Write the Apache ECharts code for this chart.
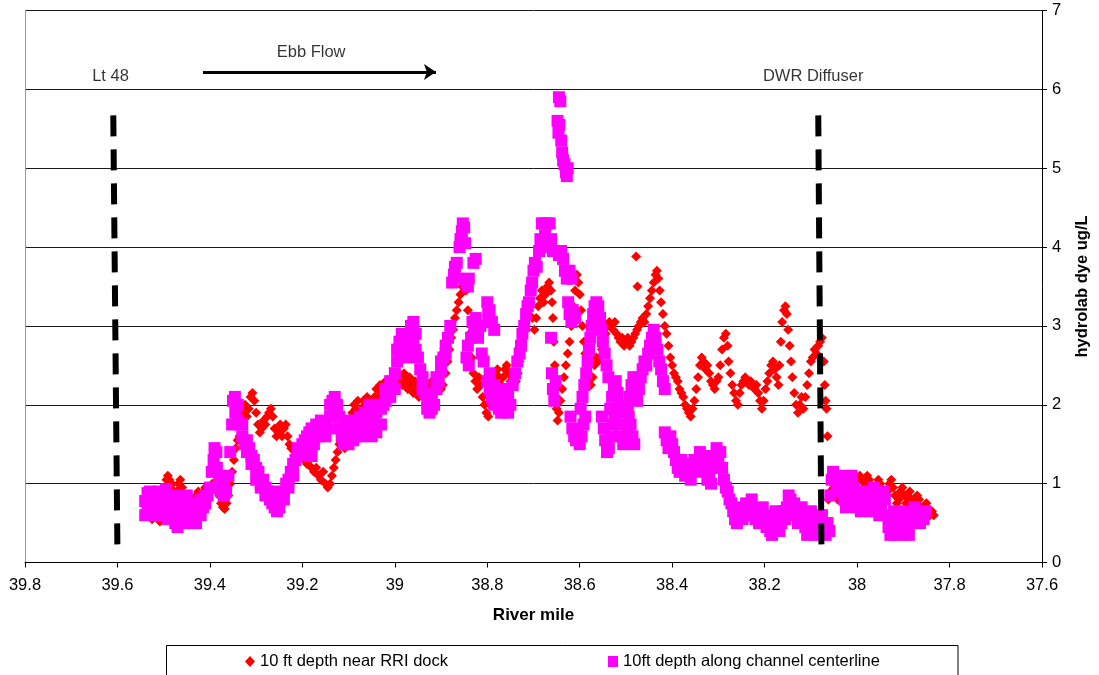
<!DOCTYPE html>
<html>
<head>
<meta charset="utf-8">
<script src="https://cdn.jsdelivr.net/npm/echarts@6/dist/echarts.min.js"></script>
<style>html,body{margin:0;padding:0;background:#fff}#c{width:1099px;height:675px}</style>
</head>
<body>
<div id="c"></div>
<script>
// Series names
const seriesNames = ['10 ft depth near RRI dock', '10ft depth along channel centerline'];

// 10 ft depth near RRI dock  [river mile, dye ug/L]
const redDock = [
[39.525,0.55],[39.52,0.62],[39.516,0.72],[39.512,0.58],[39.508,0.52],[39.504,0.7],[39.5,0.85],[39.497,0.95],[39.494,1.05],[39.491,1.1],
[39.488,1.05],[39.485,0.95],[39.482,1.0],[39.479,0.9],[39.476,0.8],[39.472,0.9],[39.468,1.0],[39.464,1.05],[39.46,0.95],[39.456,0.85],
[39.452,0.75],[39.448,0.8],[39.444,0.7],[39.44,0.75],[39.435,0.8],[39.43,0.85],[39.425,0.9],[39.42,0.85],[39.415,0.9],[39.41,0.95],
[39.405,0.9],[39.4,0.95],[39.395,1.0],[39.39,0.95],[39.385,0.9],[39.38,0.85],[39.376,0.75],[39.372,0.7],[39.368,0.68],[39.364,0.75],
[39.36,0.85],[39.356,1.0],[39.352,1.15],[39.348,1.3],[39.344,1.45],[39.34,1.55],[39.336,1.6],[39.332,1.75],[39.328,1.9],[39.324,2.0],
[39.32,1.85],[39.316,1.95],[39.312,2.1],[39.308,2.15],[39.304,2.05],[39.3,1.9],[39.296,1.75],[39.292,1.65],[39.288,1.7],[39.284,1.8],
[39.28,1.75],[39.276,1.85],[39.272,1.9],[39.268,1.95],[39.264,1.85],[39.26,1.7],[39.256,1.6],[39.252,1.65],[39.248,1.75],[39.244,1.6],
[39.24,1.7],[39.236,1.75],[39.232,1.6],[39.228,1.5],[39.224,1.45],[39.22,1.45],[39.216,1.4],[39.212,1.35],[39.208,1.38],[39.204,1.32],
[39.2,1.35],[39.196,1.3],[39.19,1.25],[39.185,1.3],[39.18,1.2],[39.175,1.15],[39.17,1.2],[39.165,1.1],[39.16,1.05],[39.155,1.15],
[39.15,1.0],[39.145,0.95],[39.14,1.0],[39.136,1.1],[39.132,1.2],[39.128,1.3],[39.124,1.4],[39.12,1.5],[39.116,1.6],[39.112,1.5],
[39.108,1.45],[39.104,1.55],[39.1,1.65],[39.096,1.8],[39.092,1.9],[39.088,2.0],[39.084,1.95],[39.08,2.05],[39.076,1.9],[39.072,1.95],
[39.068,2.05],[39.064,2.0],[39.06,2.1],[39.056,2.0],[39.052,2.05],[39.048,1.95],[39.044,2.1],[39.04,2.2],[39.036,2.1],[39.032,2.25],
[39.028,2.15],[39.024,2.2],[39.02,2.3],[39.016,2.15],[39.012,2.2],[39.008,2.1],[39.004,2.2],[39.0,2.25],[38.996,2.3],[38.992,2.4],
[38.988,2.35],[38.984,2.25],[38.98,2.4],[38.976,2.3],[38.972,2.2],[38.968,2.35],[38.964,2.25],[38.96,2.15],[38.956,2.3],[38.952,2.2],
[38.948,2.1],[38.944,2.2],[38.94,2.3],[38.936,2.2],[38.932,2.15],[38.928,2.25],[38.924,2.2],[38.92,2.3],[38.916,2.25],[38.912,2.2],
[38.908,2.3],[38.904,2.2],[38.9,2.2],[38.896,2.25],[38.89,2.4],[38.886,2.55],[38.882,2.7],[38.878,2.85],[38.874,2.95],[38.87,3.1],
[38.866,3.2],[38.862,3.3],[38.858,3.4],[38.854,3.5],[38.85,3.55],[38.846,3.45],[38.842,3.2],[38.838,2.9],[38.834,2.6],[38.83,2.4],
[38.826,2.3],[38.822,2.2],[38.818,2.35],[38.814,2.25],[38.81,2.1],[38.806,2.0],[38.802,1.9],[38.798,1.85],[38.794,2.0],[38.79,2.15],
[38.786,2.3],[38.782,2.4],[38.778,2.45],[38.774,2.35],[38.77,2.25],[38.766,2.35],[38.762,2.45],[38.758,2.5],[38.754,2.4],[38.75,2.3],
[38.746,2.35],[38.742,2.4],[38.738,2.3],[38.734,2.4],[38.73,2.55],[38.726,2.7],[38.722,2.85],[38.718,2.95],[38.714,3.1],[38.71,3.2],
[38.706,3.3],[38.702,3.1],[38.698,2.95],[38.694,3.1],[38.69,3.25],[38.686,3.35],[38.682,3.45],[38.678,3.3],[38.674,3.4],[38.67,3.5],
[38.666,3.55],[38.662,3.45],[38.66,3.3],[38.658,3.1],[38.656,2.8],[38.654,2.5],[38.652,2.2],[38.65,1.95],[38.648,1.8],[38.645,1.9],
[38.642,2.05],[38.638,2.2],[38.634,2.35],[38.63,2.5],[38.626,2.65],[38.622,2.8],[38.618,3.0],[38.614,3.25],[38.61,3.45],[38.606,3.65],
[38.603,3.55],[38.6,3.4],[38.597,3.2],[38.594,3.0],[38.591,2.8],[38.588,2.65],[38.584,2.5],[38.58,2.35],[38.576,2.25],[38.572,2.35],
[38.568,2.5],[38.564,2.6],[38.56,2.55],[38.556,2.6],[38.552,2.7],[38.548,2.8],[38.544,2.9],[38.54,3.0],[38.536,3.05],[38.532,3.0],
[38.528,2.95],[38.524,3.05],[38.52,2.9],[38.516,2.85],[38.512,2.8],[38.508,2.85],[38.504,2.75],[38.5,2.8],[38.496,2.85],[38.492,2.75],
[38.488,2.8],[38.478,3.88],[38.475,3.5],[38.484,2.85],[38.48,2.9],[38.476,2.95],[38.472,3.0],[38.468,3.05],[38.464,3.1],[38.46,3.05],
[38.456,3.15],[38.452,3.25],[38.448,3.35],[38.444,3.45],[38.44,3.55],[38.436,3.65],[38.433,3.7],[38.43,3.6],[38.427,3.45],[38.424,3.3],
[38.42,3.15],[38.416,3.0],[38.412,2.9],[38.408,2.75],[38.404,2.6],[38.4,2.5],[38.396,2.4],[38.392,2.35],[38.388,2.3],[38.384,2.2],
[38.38,2.15],[38.376,2.1],[38.372,2.0],[38.368,1.95],[38.364,1.9],[38.36,1.85],[38.356,1.95],[38.352,2.05],[38.348,2.2],[38.344,2.35],
[38.34,2.5],[38.336,2.6],[38.332,2.55],[38.328,2.45],[38.324,2.5],[38.32,2.4],[38.316,2.3],[38.312,2.25],[38.308,2.2],[38.304,2.3],
[38.3,2.35],[38.296,2.5],[38.292,2.7],[38.288,2.85],[38.284,2.9],[38.28,2.75],[38.278,2.55],[38.274,2.4],[38.27,2.25],[38.266,2.15],
[38.262,2.05],[38.258,2.0],[38.254,2.15],[38.25,2.25],[38.246,2.3],[38.242,2.35],[38.238,2.3],[38.234,2.25],[38.23,2.3],[38.226,2.25],
[38.222,2.2],[38.218,2.25],[38.214,2.15],[38.21,2.05],[38.206,1.95],[38.202,2.05],[38.198,2.2],[38.194,2.3],[38.19,2.4],[38.186,2.5],
[38.182,2.55],[38.178,2.45],[38.174,2.35],[38.17,2.25],[38.168,2.5],[38.165,2.8],[38.162,3.05],[38.158,3.2],[38.155,3.25],[38.152,3.15],
[38.149,2.95],[38.146,2.75],[38.143,2.55],[38.14,2.35],[38.136,2.15],[38.132,2.0],[38.128,1.9],[38.124,2.0],[38.12,2.1],[38.116,1.95],
[38.112,2.1],[38.108,2.25],[38.104,2.4],[38.1,2.55],[38.096,2.6],[38.092,2.7],[38.088,2.65],[38.084,2.75],[38.08,2.8],[38.076,2.85],
[38.072,2.55],[38.07,2.25],[38.068,2.05],[38.066,1.95],[38.064,1.6],[38.062,0.8],[38.058,0.9],[38.054,0.85],[38.05,0.95],[38.046,0.9],
[38.042,0.8],[38.038,0.85],[38.034,0.95],[38.03,1.0],[38.026,0.95],[38.022,0.9],[38.018,0.85],[38.014,0.9],[38.01,0.95],[38.006,0.9],
[38.002,1.0],[37.998,1.05],[37.994,1.1],[37.99,1.05],[37.986,0.95],[37.982,1.0],[37.978,1.1],[37.974,1.05],[37.97,0.95],[37.966,0.9],
[37.962,0.85],[37.958,0.95],[37.954,1.05],[37.95,1.0],[37.946,0.9],[37.942,0.85],[37.938,0.8],[37.934,0.9],[37.93,1.0],[37.926,1.05],
[37.922,0.95],[37.918,0.85],[37.914,0.75],[37.91,0.8],[37.906,0.9],[37.902,0.95],[37.898,0.85],[37.894,0.75],[37.89,0.85],[37.886,0.9],
[37.882,0.8],[37.878,0.7],[37.874,0.75],[37.87,0.85],[37.866,0.8],[37.862,0.7],[37.858,0.6],[37.854,0.7],[37.85,0.75],[37.846,0.65],
[37.842,0.6],[37.838,0.65],[37.834,0.6]
];

// 10ft depth along channel centerline  [river mile, dye ug/L]
const magentaCenter = [
[39.54,0.6],[39.54,0.78],[39.535,0.88],[39.535,0.65],[39.53,0.9],[39.53,0.7],[39.525,0.8],[39.52,0.75],[39.52,0.6],[39.515,0.86],
[39.51,0.9],[39.51,0.7],[39.505,0.75],[39.5,0.85],[39.5,0.6],[39.495,0.93],[39.495,0.7],[39.49,0.8],[39.49,0.55],[39.485,0.65],
[39.48,0.75],[39.475,0.5],[39.475,0.85],[39.47,0.45],[39.47,0.7],[39.465,0.55],[39.46,0.65],[39.46,0.8],[39.455,0.5],[39.45,0.6],
[39.45,0.85],[39.445,0.55],[39.44,0.5],[39.44,0.7],[39.435,0.6],[39.43,0.75],[39.43,0.5],[39.425,0.65],[39.42,0.8],[39.42,0.6],
[39.415,0.7],[39.41,0.85],[39.41,0.75],[39.405,0.85],[39.4,0.95],[39.396,1.15],[39.392,1.3],[39.39,1.45],[39.386,1.4],[39.385,1.2],
[39.38,1.1],[39.38,0.95],[39.375,0.9],[39.37,0.85],[39.37,1.0],[39.365,0.9],[39.36,1.1],[39.356,1.4],[39.352,1.75],[39.35,2.05],
[39.346,2.1],[39.345,1.9],[39.34,2.0],[39.34,1.8],[39.335,1.75],[39.33,1.6],[39.33,1.75],[39.325,1.5],[39.32,1.55],[39.32,1.4],
[39.315,1.45],[39.31,1.35],[39.31,1.25],[39.305,1.3],[39.3,1.2],[39.3,1.05],[39.295,1.15],[39.29,1.0],[39.29,0.95],[39.285,1.05],
[39.28,0.95],[39.28,0.85],[39.275,0.9],[39.27,0.8],[39.265,0.75],[39.265,0.9],[39.26,0.7],[39.255,0.65],[39.255,0.8],[39.25,0.7],
[39.25,0.78],[39.245,0.85],[39.24,0.9],[39.24,0.8],[39.235,1.0],[39.23,1.05],[39.23,0.95],[39.225,1.15],[39.22,1.25],[39.22,1.1],
[39.215,1.3],[39.21,1.35],[39.21,1.45],[39.205,1.4],[39.2,1.5],[39.2,1.35],[39.195,1.55],[39.19,1.6],[39.19,1.4],[39.185,1.65],
[39.185,1.45],[39.18,1.7],[39.18,1.35],[39.175,1.5],[39.17,1.65],[39.17,1.75],[39.165,1.6],[39.16,1.7],[39.16,1.8],[39.155,1.65],
[39.15,1.75],[39.15,1.6],[39.145,1.7],[39.14,1.85],[39.14,2.0],[39.135,2.05],[39.13,2.1],[39.13,1.95],[39.125,2.0],[39.12,1.85],
[39.12,1.7],[39.115,1.6],[39.11,1.5],[39.11,1.75],[39.105,1.55],[39.1,1.5],[39.1,1.65],[39.095,1.8],[39.09,1.55],[39.09,1.7],
[39.085,1.6],[39.08,1.75],[39.075,1.6],[39.075,1.85],[39.07,1.7],[39.065,1.9],[39.065,1.65],[39.06,1.75],[39.055,2.0],[39.055,1.8],
[39.05,1.6],[39.045,1.85],[39.04,1.65],[39.04,1.9],[39.035,2.0],[39.03,1.75],[39.03,1.95],[39.025,2.0],[39.02,2.05],[39.02,2.2],
[39.015,2.1],[39.01,2.3],[39.01,2.1],[39.005,2.25],[39.0,2.4],[39.0,2.2],[38.995,2.55],[38.995,2.7],[38.99,2.8],[38.99,2.65],
[38.985,2.9],[38.98,2.85],[38.98,2.7],[38.975,2.6],[38.97,2.75],[38.97,2.9],[38.965,3.0],[38.96,3.05],[38.96,2.85],[38.955,2.9],
[38.955,2.7],[38.95,2.6],[38.945,2.45],[38.94,2.35],[38.94,2.2],[38.935,2.15],[38.93,2.05],[38.93,1.95],[38.925,1.9],[38.92,1.95],
[38.92,2.1],[38.915,2.0],[38.91,2.2],[38.91,2.35],[38.905,2.3],[38.9,2.45],[38.9,2.55],[38.895,2.6],[38.89,2.75],[38.89,2.65],
[38.885,2.85],[38.88,3.0],[38.876,3.55],[38.872,3.65],[38.87,3.75],[38.866,3.8],[38.865,3.6],[38.86,4.0],[38.858,4.1],[38.855,4.2],
[38.853,4.3],[38.85,4.25],[38.848,4.05],[38.845,3.55],[38.842,3.5],[38.84,3.6],[38.83,3.8],[38.825,3.85],[38.845,2.6],[38.842,2.75],
[38.84,2.5],[38.835,2.85],[38.832,3.05],[38.828,2.9],[38.825,3.1],[38.82,2.85],[38.815,3.0],[38.812,2.65],[38.808,2.55],[38.8,3.3],
[38.798,3.15],[38.795,3.2],[38.79,3.05],[38.785,2.95],[38.8,2.3],[38.795,2.4],[38.795,2.2],[38.79,2.1],[38.785,2.25],[38.785,2.0],
[38.78,2.05],[38.775,1.95],[38.775,2.15],[38.77,1.9],[38.765,2.0],[38.765,2.2],[38.76,1.95],[38.755,1.9],[38.755,2.1],[38.75,2.0],
[38.745,2.25],[38.74,2.4],[38.735,2.55],[38.73,2.65],[38.727,2.75],[38.724,2.9],[38.72,3.0],[38.716,3.15],[38.713,3.25],[38.71,3.3],
[38.706,3.45],[38.703,3.55],[38.7,3.7],[38.697,3.8],[38.693,3.75],[38.688,3.95],[38.685,4.1],[38.682,4.3],[38.678,4.3],[38.675,4.15],
[38.672,4.0],[38.67,4.3],[38.665,4.3],[38.662,4.1],[38.658,3.95],[38.662,2.85],[38.66,2.4],[38.658,2.2],[38.655,2.05],[38.652,2.3],
[38.645,5.9],[38.642,5.85],[38.648,5.6],[38.646,5.45],[38.644,5.55],[38.64,5.35],[38.638,5.2],[38.636,5.1],[38.633,5.05],[38.63,4.95],
[38.628,4.9],[38.626,5.0],[38.65,3.95],[38.645,3.9],[38.64,3.95],[38.636,3.85],[38.632,3.7],[38.628,3.6],[38.622,3.7],[38.618,3.6],
[38.625,3.3],[38.622,3.15],[38.618,3.05],[38.615,3.2],[38.61,3.1],[38.62,1.85],[38.616,1.7],[38.612,1.6],[38.608,1.55],[38.604,1.65],
[38.6,1.5],[38.596,1.6],[38.592,1.75],[38.588,1.85],[38.598,1.95],[38.594,2.1],[38.59,2.25],[38.586,2.4],[38.583,2.55],[38.58,2.7],
[38.577,2.85],[38.574,3.0],[38.571,3.15],[38.568,3.25],[38.564,3.3],[38.56,3.25],[38.556,3.1],[38.553,2.95],[38.55,2.8],[38.546,2.65],
[38.542,2.5],[38.538,2.35],[38.552,1.85],[38.548,1.7],[38.545,1.55],[38.541,1.4],[38.537,1.45],[38.533,1.6],[38.529,1.75],[38.525,1.85],
[38.534,1.95],[38.53,2.1],[38.526,2.25],[38.522,2.3],[38.518,2.15],[38.514,2.0],[38.518,1.9],[38.514,1.75],[38.51,1.6],[38.506,1.5],
[38.502,1.55],[38.498,1.7],[38.494,1.85],[38.49,1.75],[38.486,1.6],[38.482,1.5],[38.496,1.95],[38.492,2.1],[38.488,2.25],[38.484,2.35],
[38.48,2.2],[38.476,2.05],[38.472,2.2],[38.468,2.35],[38.464,2.45],[38.46,2.55],[38.456,2.5],[38.452,2.65],[38.448,2.75],[38.444,2.85],
[38.44,2.95],[38.436,2.85],[38.432,2.7],[38.428,2.55],[38.424,2.45],[38.42,2.3],[38.416,2.2],[38.416,1.65],[38.412,1.55],[38.408,1.45],
[38.404,1.6],[38.4,1.5],[38.396,1.4],[38.392,1.3],[38.388,1.2],[38.384,1.15],[38.38,1.3],[38.376,1.2],[38.372,1.1],[38.368,1.25],
[38.364,1.15],[38.36,1.05],[38.356,1.2],[38.352,1.3],[38.348,1.15],[38.344,1.3],[38.34,1.4],[38.336,1.25],[38.332,1.35],[38.328,1.2],
[38.324,1.05],[38.32,1.1],[38.316,1.0],[38.312,1.2],[38.308,1.35],[38.304,1.45],[38.3,1.3],[38.296,1.4],[38.292,1.2],[38.288,1.05],
[38.284,0.95],[38.28,0.9],[38.276,0.8],[38.272,0.75],[38.268,0.65],[38.264,0.55],[38.26,0.5],[38.256,0.6],[38.252,0.7],[38.248,0.55],
[38.244,0.65],[38.24,0.75],[38.236,0.6],[38.232,0.7],[38.228,0.8],[38.224,0.65],[38.22,0.55],[38.216,0.65],[38.212,0.5],[38.208,0.6],
[38.204,0.7],[38.2,0.55],[38.196,0.45],[38.192,0.6],[38.188,0.4],[38.184,0.35],[38.18,0.5],[38.176,0.65],[38.172,0.55],[38.168,0.4],
[38.164,0.5],[38.16,0.65],[38.156,0.55],[38.152,0.7],[38.148,0.85],[38.144,0.8],[38.14,0.65],[38.136,0.75],[38.132,0.6],[38.128,0.5],
[38.124,0.65],[38.12,0.7],[38.116,0.55],[38.112,0.45],[38.108,0.35],[38.104,0.5],[38.1,0.65],[38.096,0.55],[38.092,0.4],[38.088,0.5],
[38.084,0.35],[38.08,0.45],[38.076,0.6],[38.072,0.45],[38.068,0.35],[38.064,0.5],[38.06,0.4],[38.058,0.85],[38.055,1.05],[38.052,1.15],
[38.048,1.05],[38.044,0.9],[38.04,1.0],[38.036,1.1],[38.032,0.95],[38.028,0.8],[38.024,0.7],[38.02,0.85],[38.016,1.0],[38.012,1.1],
[38.008,0.95],[38.004,0.8],[38.0,0.7],[37.996,0.8],[37.992,0.65],[37.988,0.75],[37.984,0.9],[37.98,0.8],[37.976,0.7],[37.972,0.65],
[37.968,0.8],[37.964,0.95],[37.96,0.85],[37.956,0.7],[37.952,0.6],[37.948,0.75],[37.944,0.9],[37.94,0.8],[37.936,0.6],[37.932,0.45],
[37.928,0.35],[37.924,0.5],[37.92,0.65],[37.916,0.55],[37.912,0.4],[37.908,0.35],[37.904,0.5],[37.9,0.65],[37.896,0.55],[37.892,0.4],
[37.888,0.35],[37.884,0.5],[37.88,0.6],[37.876,0.7],[37.872,0.55],[37.868,0.6],[37.864,0.5],[37.86,0.6],[37.856,0.55],[37.852,0.65]
];

// Reference lines (river mile, dye) and annotations
const lt48Line = [[39.609,5.67],[39.600,0.11]];
const dwrLine = [[38.084,5.67],[38.077,0.11]];
const annotations = [
  {name:'Lt 48', value:[39.615,6.16]},
  {name:'Ebb Flow', value:[39.181,6.47]},
  {name:'DWR Diffuser', value:[38.095,6.16]}
];
const ebbArrow = [[39.415,6.22],[38.911,6.22]];

const FONT = '"Liberation Sans", Arial, sans-serif';
const chart = echarts.init(document.getElementById('c'), null, {renderer:'canvas'});
chart.setOption({
  animation:false,
  backgroundColor:'#fff',
  textStyle:{fontFamily:FONT, color:'#000'},
  grid:{left:25, right:52.3, top:10.5, bottom:112.5},
  xAxis:{
    type:'value', inverse:true, min:37.6, max:39.8, interval:0.2,
    axisLine:{lineStyle:{color:'#000', width:1}},
    axisTick:{length:5, lineStyle:{color:'#000'}},
    axisLabel:{color:'#000', fontSize:16.5, fontFamily:FONT, margin:14, formatter:v=>String(+v.toFixed(1))},
    splitLine:{show:false},
    name:'River mile', nameLocation:'middle', nameGap:44,
    nameTextStyle:{fontWeight:'bold', fontSize:17, color:'#000', fontFamily:FONT}
  },
  yAxis:[{
    type:'value', position:'right', min:0, max:7, interval:1,
    axisLine:{show:true, lineStyle:{color:'#000', width:1}},
    axisTick:{show:true, length:5, lineStyle:{color:'#000'}},
    axisLabel:{color:'#000', fontSize:16.5, fontFamily:FONT, margin:10},
    splitLine:{show:true, lineStyle:{color:'#1a1a1a', width:1}},
    name:'hydrolab dye ug/L', nameLocation:'middle', nameGap:32, nameRotate:90,
    nameTextStyle:{fontWeight:'bold', fontSize:16.5, color:'#000', fontFamily:FONT}
  },{
    type:'value', position:'left', min:0, max:7,
    axisLine:{show:true, lineStyle:{color:'#999', width:1}},
    axisTick:{show:false}, axisLabel:{show:false}, splitLine:{show:false}
  }],
  legend:{
    data:[{name:seriesNames[0], icon:'diamond'},{name:seriesNames[1], icon:'rect'}],
    left:245, top:653, padding:0, itemWidth:10, itemHeight:11, itemGap:160,
    textStyle:{fontSize:16.5, color:'#000', fontFamily:FONT}
  },
  graphic:[{type:'rect', silent:true, shape:{x:166.5, y:645.5, width:791.5, height:60},
    style:{fill:'none', stroke:'#000', lineWidth:1}}],
  series:[
    {name:seriesNames[0], type:'scatter', data:redDock, symbol:'diamond', symbolSize:10,
      itemStyle:{color:'#ff0000', opacity:1}, silent:true, z:2},
    {name:seriesNames[1], type:'scatter', data:magentaCenter, symbol:'rect', symbolSize:12,
      itemStyle:{color:'#ff00ff', opacity:1}, silent:true, z:3},
    {name:'lt48', type:'line', data:lt48Line, showSymbol:false, symbol:'none', silent:true, z:4,
      lineStyle:{color:'#000', width:6, type:[21,13], cap:'butt'}},
    {name:'dwr', type:'line', data:dwrLine, showSymbol:false, symbol:'none', silent:true, z:4,
      lineStyle:{color:'#000', width:6, type:[21,13], cap:'butt'}},
    {name:'annot', type:'scatter', data:annotations, symbolSize:1, silent:true, z:5,
      itemStyle:{color:'rgba(0,0,0,0)'},
      label:{show:true, position:'inside', formatter:'{b}', color:'#000', fontSize:16.5, fontFamily:FONT},
      markLine:{silent:true, symbol:['none','arrow'], symbolSize:12, animation:false,
        lineStyle:{color:'#000', width:3, type:'solid'}, label:{show:false},
        data:[[{coord:ebbArrow[0]},{coord:ebbArrow[1]}]]}
    }
  ]
});
</script>
</body>
</html>
